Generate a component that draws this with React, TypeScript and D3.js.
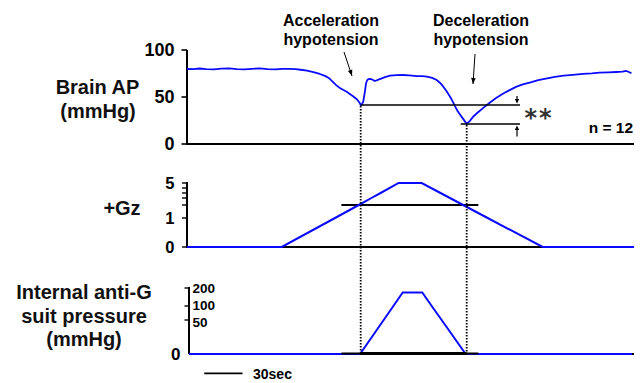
import React from "react";
import * as d3 from "d3";

// Time axis (seconds)
const timeDomain: [number, number] = [0, 350];

// Brain arterial pressure trace, [time s, mmHg]
const brainAP: [number, number][] = [
  [0, 79.8], [5, 79.6], [10, 80.3], [15, 79.7], [21, 79.4], [27, 80.1], [33, 80.4],
  [39, 79.6], [45, 79.3], [51, 80.0], [57, 80.4], [63, 79.7], [69, 79.4], [75, 80.0],
  [80, 79.9], [85, 79.6], [89, 79.0], [94, 78.0], [99, 76.4], [104, 74.5], [108, 72.5],
  [111, 70.3], [114, 66.4], [117, 62.4], [120, 59.3], [122.5, 57.4], [125, 55.6],
  [127.5, 53.2], [130, 50.8], [133, 47.6], [135, 44.2], [136, 41.5], [137, 42.3],
  [138, 45.0], [139.2, 55.0], [140.2, 64.6], [141, 67.6], [142, 69.1], [143.5, 69.3],
  [145, 68.6], [147, 67.0], [149, 67.9], [151, 69.1], [155, 71.2], [159, 72.7],
  [164, 73.3], [169, 73.4], [174, 72.9], [180, 72.3], [184, 72.2], [188, 71.6],
  [192, 70.4], [195.5, 68.1], [198, 65.2], [200.7, 61.0], [203, 56.6], [206, 50.3],
  [208, 45.3], [210, 39.7], [212, 34.8], [214, 30.9], [216.5, 26.2], [219, 21.3],
  [221.5, 24.6], [224, 29.0], [227, 32.7], [232, 38.4], [237, 43.9], [242, 48.9],
  [248, 53.9], [253, 57.6], [258, 61.0], [263, 63.5], [269, 65.6], [275, 67.9],
  [282, 69.9], [288, 71.4], [295, 72.7], [302, 73.6], [310, 74.5], [317, 75.1],
  [323, 75.9], [330, 76.2], [336, 76.6], [341, 77.0], [344, 77.7], [346, 76.6],
  [348, 75.2],
];

// +Gz profile, [time s, G]
const gzProfile: [number, number][] = [
  [0, 0], [74.2, 0], [115.9, 1], [134.5, 2], [144.4, 3], [151.6, 4], [165.7, 5],
  [183.8, 5], [198.5, 4], [205.9, 3], [216.2, 2], [235.4, 1], [278.5, 0], [350, 0],
];

// Internal anti-G suit pressure, [time s, mmHg]
const suitPressure: [number, number][] = [
  [1.5, 0], [135.5, 0], [154.0, 50], [161.6, 100], [168.9, 175], [184.2, 175],
  [191.6, 100], [199.4, 50], [218.2, 0], [348.5, 0],
];

// Axis ticks
const apTicks = [0, 50, 100];
const gzDomain = [0, 1, 2, 3, 4, 5];
const gzLabelTicks = [0, 1, 5];
const gzMinorTicks = [2, 3, 4, 4.5];
const gzThreshold = 2;
const gzThresholdSpan: [number, number] = [120.9, 228.1];
const suitDomain = [0, 50, 100, 200];
const suitLabelTicks = [50, 100, 200];

// Labels
const annotations = [
  { lines: ["Acceleration", "hypotension"], cx: 331, from: [344, 52], to: [352, 76] },
  { lines: ["Deceleration", "hypotension"], cx: 481, from: [475, 54], to: [473, 84] },
];
const sampleSize = "n = 12";
const significance = "**";
const scaleBarSeconds = 30;
const scaleBarLabel = "30sec";

const BLUE = "#0a0aff";
const FONT = "'Liberation Sans', Arial, Helvetica, sans-serif";

function arrowHead(from: number[], to: number[], len = 6, half = 2.4) {
  const dx = to[0] - from[0];
  const dy = to[1] - from[1];
  const d = Math.hypot(dx, dy);
  const ux = dx / d, uy = dy / d;
  const bx = to[0] - ux * len, by = to[1] - uy * len;
  return `M${to[0]},${to[1]}L${bx - uy * half},${by + ux * half}L${bx + uy * half},${by - ux * half}Z`;
}

// Small offsets keep the closely spaced suit-pressure labels apart
const suitLabelNudge: Record<number, number> = { 200: 0, 100: -1, 50: 1.5 };

export default function App() {
  const W = 643, H = 383;
  const x = d3.scaleLinear().domain(timeDomain).range([187, 634]);
  const yAP = d3.scaleLinear().domain([0, 100]).range([144, 50]);
  const yGz = d3.scaleLinear().domain(gzDomain).range([247, 218, 205, 198, 193, 183]);
  const ySuit = d3.scaleLinear().domain(suitDomain).range([354, 320, 306, 288]);

  const apLine = d3.line<[number, number]>().x(d => x(d[0])).y(d => yAP(d[1]));
  const gzLine = d3.line<[number, number]>().x(d => x(d[0])).y(d => yGz(d[1]));
  const suitLine = d3.line<[number, number]>().x(d => x(d[0])).y(d => ySuit(d[1]));

  // Nadirs of the two hypotensive dips
  const accel = d3.least(brainAP.filter(d => d[0] < 170), d => d[1])!;
  const decel = d3.least(brainAP.filter(d => d[0] > 170), d => d[1])!;
  const compareEnd = 260.7;
  const arrowT = 258.4;

  const axisX0 = x(timeDomain[0]);
  const axisX1 = x(timeDomain[1]);
  const suitAxisX = 189;

  return (
    <svg width={W} height={H} style={{ position: "absolute", left: 0, top: 0, background: "#fff" }}
      fontFamily={FONT}>
      {/* Row labels */}
      <g fontWeight="bold" fontSize={20} textAnchor="middle" fill="#111">
        <text x={97.5} y={93.5}>Brain AP</text>
        <text x={98} y={118}>(mmHg)</text>
        <text x={122} y={215}>+Gz</text>
        <text x={84} y={299}>Internal anti-G</text>
        <text x={84} y={323}>suit pressure</text>
        <text x={84} y={346}>(mmHg)</text>
      </g>

      {/* Brain AP panel */}
      <g>
        <line x1={axisX0} x2={axisX0} y1={yAP(100)} y2={yAP(0)} stroke="#000" strokeWidth={2} />
        <line x1={axisX0 - 1} x2={axisX1} y1={yAP(0)} y2={yAP(0)} stroke="#000" strokeWidth={2} />
        {apTicks.map(t => (
          <g key={t}>
            <line x1={axisX0 - 5.5} x2={axisX0} y1={yAP(t)} y2={yAP(t)} stroke="#000" strokeWidth={1.6} />
            <text x={174.5} y={yAP(t) + 6.3} textAnchor="end" fontWeight="bold" fontSize={18}>{t}</text>
          </g>
        ))}
        <path d={apLine(brainAP)!} fill="none" stroke={BLUE} strokeWidth={1.8} strokeLinejoin="round" />
        {/* Comparison of the two nadirs */}
        <line x1={x(accel[0])} x2={x(compareEnd)} y1={yAP(accel[1])} y2={yAP(accel[1])} stroke="#000" strokeWidth={1.3} />
        <line x1={x(decel[0]) - 6} x2={x(compareEnd)} y1={yAP(decel[1])} y2={yAP(decel[1])} stroke="#000" strokeWidth={1.3} />
        <line x1={x(arrowT)} x2={x(arrowT)} y1={yAP(accel[1]) - 9} y2={yAP(accel[1]) - 3} stroke="#000" strokeWidth={1.2} />
        <path d={arrowHead([x(arrowT), yAP(accel[1]) - 9], [x(arrowT), yAP(accel[1]) - 1.5], 4.5, 2.2)} fill="#000" />
        <line x1={x(arrowT)} x2={x(arrowT)} y1={yAP(decel[1]) + 12.5} y2={yAP(decel[1]) + 5} stroke="#000" strokeWidth={1.2} />
        <path d={arrowHead([x(arrowT), yAP(decel[1]) + 12.5], [x(arrowT), yAP(decel[1]) + 1.5], 4.5, 2.2)} fill="#000" />
        <text x={539} y={126} textAnchor="middle" fontSize={24} fontWeight="bold" fill="#333"
          fontFamily="'DejaVu Sans', sans-serif" letterSpacing={2}>{significance}</text>
        <text x={633} y={133} textAnchor="end" fontWeight="bold" fontSize={15.5}>{sampleSize}</text>
      </g>

      {/* Event annotations */}
      {annotations.map((a, i) => (
        <g key={i}>
          <text x={a.cx} y={26} textAnchor="middle" fontWeight="bold" fontSize={16}>{a.lines[0]}</text>
          <text x={a.cx} y={44.5} textAnchor="middle" fontWeight="bold" fontSize={16}>{a.lines[1]}</text>
          <line x1={a.from[0]} y1={a.from[1]} x2={a.to[0]} y2={a.to[1]} stroke="#000" strokeWidth={1} />
          <path d={arrowHead(a.from, a.to, 6, 2.3)} fill="#000" />
        </g>
      ))}

      {/* +Gz panel */}
      <g>
        <line x1={axisX0} x2={axisX0} y1={yGz(5) - 1} y2={yGz(0)} stroke="#000" strokeWidth={2} />
        <line x1={axisX0 - 1} x2={axisX1} y1={yGz(0)} y2={yGz(0)} stroke="#000" strokeWidth={2} />
        {[...gzLabelTicks, ...gzMinorTicks].map(t => (
          <line key={t} x1={axisX0 - 5} x2={axisX0} y1={yGz(t)} y2={yGz(t)} stroke="#000" strokeWidth={1.4} />
        ))}
        {gzLabelTicks.map(t => (
          <text key={t} x={174.5} y={yGz(t) + 6} textAnchor="end" fontWeight="bold" fontSize={16.5}>{t}</text>
        ))}
        <line x1={x(gzThresholdSpan[0])} x2={x(gzThresholdSpan[1])} y1={yGz(gzThreshold)} y2={yGz(gzThreshold)}
          stroke="#000" strokeWidth={2} />
        <path d={gzLine(gzProfile)!} fill="none" stroke={BLUE} strokeWidth={2} />
      </g>

      {/* Anti-G suit pressure panel */}
      <g>
        <line x1={suitAxisX} x2={suitAxisX} y1={ySuit(200) - 1} y2={ySuit(0)} stroke="#000" strokeWidth={2} />
        <line x1={suitAxisX} x2={axisX1} y1={ySuit(0)} y2={ySuit(0)} stroke="#000" strokeWidth={2} />
        {suitLabelTicks.map(t => (
          <g key={t}>
            <line x1={suitAxisX - 4.5} x2={suitAxisX} y1={ySuit(t)} y2={ySuit(t)} stroke="#000" strokeWidth={1.4} />
            <text x={192.5} y={ySuit(t) + 5 + suitLabelNudge[t]} fontWeight="bold" fontSize={13.5}>{t}</text>
          </g>
        ))}
        <text x={180.5} y={ySuit(0) + 6} textAnchor="end" fontWeight="bold" fontSize={17}>0</text>
        <path d={suitLine(suitPressure)!} fill="none" stroke={BLUE} strokeWidth={2} />
        <line x1={x(gzThresholdSpan[0])} x2={x(gzThresholdSpan[1])} y1={ySuit(0) - 0.5} y2={ySuit(0) - 0.5}
          stroke="#000" strokeWidth={1.8} />
        <line x1={x(accel[0])} x2={x(decel[0])} y1={ySuit(0) - 0.5} y2={ySuit(0) - 0.5} stroke="#000" strokeWidth={3} />
      </g>

      {/* Dotted markers at the nadirs */}
      <line x1={x(accel[0])} x2={x(accel[0])} y1={yAP(accel[1]) + 1} y2={ySuit(0)} stroke="#000"
        strokeWidth={1.8} strokeDasharray="1.4,1.6" />
      <line x1={x(decel[0])} x2={x(decel[0])} y1={yAP(decel[1]) + 1} y2={ySuit(0)} stroke="#000"
        strokeWidth={1.8} strokeDasharray="1.4,1.6" />

      {/* Time scale bar */}
      <line x1={x(13.5)} x2={x(13.5 + scaleBarSeconds)} y1={373.3} y2={373.3} stroke="#000" strokeWidth={1.8} />
      <text x={253} y={378.5} fontWeight="bold" fontSize={14}>{scaleBarLabel}</text>
    </svg>
  );
}
